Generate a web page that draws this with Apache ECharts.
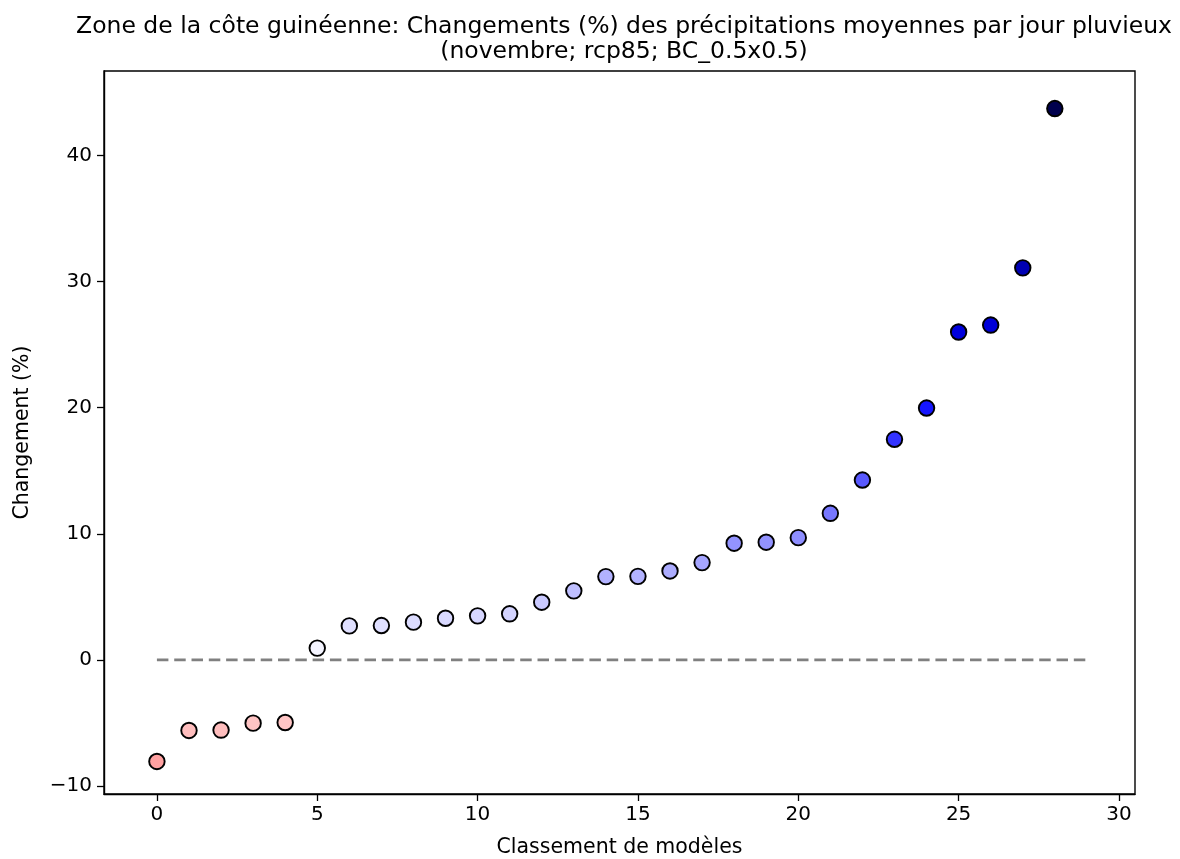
<!DOCTYPE html>
<html>
<head>
<meta charset="utf-8">
<script src="https://cdn.jsdelivr.net/npm/echarts@6/dist/echarts.min.js"></script>
<style>html,body{margin:0;padding:0;background:#fff}#c{width:1180px;height:859px}</style>
</head>
<body>
<div id="c"></div>
<script>
const titleLines = ["Zone de la côte guinéenne: Changements (%) des précipitations moyennes par jour pluvieux", "(novembre; rcp85; BC_0.5x0.5)"];
const xLabel = "Classement de modèles";
const yLabel = "Changement (%)";
const ranks = [0,1,2,3,4,5,6,7,8,9,10,11,12,13,14,15,16,17,18,19,20,21,22,23,24,25,26,27,28];
const changes = [-8.06,-5.60,-5.57,-5.02,-4.97,0.93,2.69,2.72,2.99,3.30,3.49,3.65,4.57,5.47,6.60,6.62,7.05,7.71,9.25,9.33,9.69,11.62,14.26,17.49,19.97,26.0,26.55,31.09,43.72];
const zeroLineX = [0, 29];
const xTicks = [0,5,10,15,20,25,30];
const yTicks = [-10,0,10,20,30,40];
const cmap = ['#800000','#ff0000','#ffffff','#0000ff','#00004d']; // seismic_r

const maxAbs = Math.max(...changes.map(Math.abs));
const pts = ranks.map((r,i)=>[r, changes[i]]);
const font = 'DejaVu Sans';
const chart = echarts.init(document.getElementById('c'), null, {renderer:'canvas'});
chart.setOption({
  backgroundColor:'#fff',
  animation:false,
  title:{
    text: titleLines.join('\n'),
    left: 619, top: 9, textAlign:'center',
    textStyle:{fontFamily:font, fontSize:23.5, fontWeight:'normal', color:'#000', lineHeight:25}
  },
  grid:{left:104, right:45, top:71, bottom:65, show:true, borderColor:'#000', borderWidth:1.4,
        backgroundColor:'transparent', containLabel:false, outerBoundsMode:'none'},
  visualMap:{show:false, type:'continuous', seriesIndex:1, dimension:1, min:-maxAbs, max:maxAbs, inRange:{color:cmap}},
  xAxis:{
    type:'value', min:-1.65, max:30.5,
    name:xLabel, nameLocation:'middle', nameGap:43,
    nameTextStyle:{fontFamily:font, fontSize:20.5, color:'#000'},
    splitLine:{show:false},
    axisLine:{show:true, onZero:false, lineStyle:{color:'#000', width:1.4}},
    axisTick:{show:true, length:7, customValues:xTicks, lineStyle:{color:'#000', width:1.3}},
    axisLabel:{customValues:xTicks, margin:11, fontFamily:font, fontSize:20, color:'#000'}
  },
  yAxis:{
    type:'value', min:-10.64, max:46.7,
    name:yLabel, nameLocation:'middle', nameGap:71, nameRotate:90,
    nameTextStyle:{fontFamily:font, fontSize:20.5, color:'#000'},
    splitLine:{show:false},
    axisLine:{show:true, onZero:false, lineStyle:{color:'#000', width:1.4}},
    axisTick:{show:true, length:7, customValues:yTicks, lineStyle:{color:'#000', width:1.3}},
    axisLabel:{customValues:yTicks, margin:12, fontFamily:font, fontSize:20, color:'#000',
      formatter:v=>String(v).replace('-','\u2212')}
  },
  series:[
    {type:'line', data:zeroLineX.map(x=>[x,0]), symbol:'none', silent:true,
     lineStyle:{color:'#808080', width:2.8, type:[11.5,5.8]}, z:1},
    {type:'scatter', data:pts, symbolSize:15.5, z:3,
     itemStyle:{borderColor:'#000', borderWidth:1.9, opacity:1}}
  ]
});
</script>
</body>
</html>
